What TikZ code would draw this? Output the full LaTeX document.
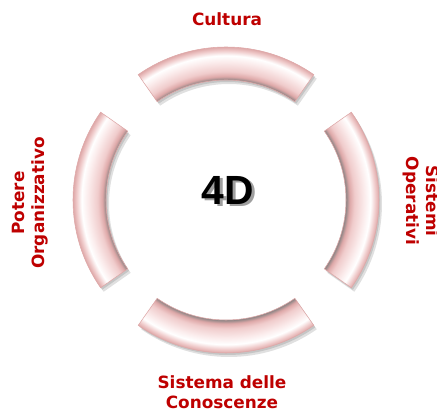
\documentclass[tikz,border=0pt]{standalone}
\usepackage{fontspec}
\newfontfamily\labelfont{DejaVu Sans}
\newfontfamily\bigfont{Liberation Sans}

\definecolor{labelred}{RGB}{190,0,0}
\definecolor{arcgray}{RGB}{140,132,132}
\definecolor{arcdark}{RGB}{222,168,168}
\definecolor{arcpink}{RGB}{240,204,204}
\definecolor{arclight}{RGB}{251,236,236}

\pgfdeclareradialshading{ringshade}{\pgfpoint{0bp}{0bp}}{%
  color(0bp)=(arcgray); color(19.6bp)=(arcgray); color(20.2bp)=(arcdark);
  color(21.0bp)=(arcpink); color(22.6bp)=(arclight); color(23.6bp)=(white);
  color(24.4bp)=(arcpink); color(25bp)=(arcdark); color(50bp)=(arcdark)}

% one piece of the ring, centred on angle #1
\newcommand{\ringpiece}[1]{(#1-35:153) arc[start angle=#1-35,end angle=#1+35,radius=153]
  -- (#1+35:120) arc[start angle=#1+35,end angle=#1-35,radius=120] -- cycle}

\tikzset{
  lbl/.style={text=labelred, font=\labelfont\bfseries\fontsize{12}{14.2}\selectfont, align=center},
  fourd/.style={font=\bigfont\bfseries\fontsize{29}{30}\selectfont},
  arcshadow/.style={fill=black, opacity=0.12},
  arcedge/.style={draw=arcdark, line width=0.4}
}

\begin{document}
\begin{tikzpicture}[x=0.025cm,y=0.025cm]
\useasboundingbox (0,0) rectangle (437,413);
\coordinate (C) at (226,213);
%
\begin{scope}[shift={(C)}]
\foreach \a in {0,90,180,270}{
  \fill[arcshadow,shift={(3,-4)}] \ringpiece{\a};
  \fill[arcshadow,shift={(1.5,-2)}] \ringpiece{\a};
  \begin{scope}
    \clip \ringpiece{\a};
    \shade[shading=ringshade] (0,0) circle (153);
  \end{scope}
  \draw[arcedge] \ringpiece{\a};
}
\end{scope}
%
\node[fourd,text=gray!75] (fourDshadow) at (230.5,220.5) {4D};
\node[fourd] (fourD) at (228,223) {4D};
%
\node[lbl] (cultura) at (227,394) {Cultura};
\node[lbl] (conoscenze) at (222,21) {Sistema delle\\Conoscenze};
\node[lbl,rotate=90] (potere) at (30,210) {Potere\\Organizzativo};
\node[lbl,rotate=-90] (operativi) at (421,212) {Sistemi\\Operativi};
\end{tikzpicture}
\end{document}
